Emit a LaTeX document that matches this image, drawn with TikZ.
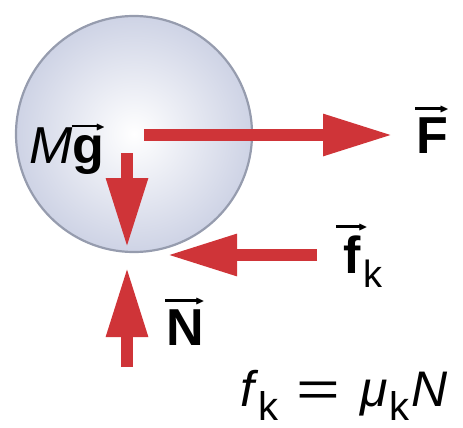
\RequirePackage{fix-cm}
\documentclass[tikz,border=0pt]{standalone}
\usepackage{amssymb}
\usepackage{fontspec}
\setmainfont{Liberation Sans}
\usetikzlibrary{arrows.meta}
\definecolor{forcered}{RGB}{207,52,56}
\definecolor{ballrim}{RGB}{150,156,174}
\definecolor{ballfill}{RGB}{206,211,229}
% bold letter with a thin vector arrow over it (optional arrow length)
\newcommand{\vecl}[2][0pt]{\setbox0\hbox{\bfseries #2}%
  \dimen0=\ifdim#1>\wd0 #1\else\wd0\fi
  \leavevmode\vbox{\offinterlineskip
    \hbox to \wd0{\hss\rule[3.2pt]{\dimexpr\dimen0-5pt}{2.4pt}\kern-2.5pt%
      {\fontsize{12}{12}\selectfont$\blacktriangleright$}\hss}%
    \kern4pt\box0}}
\newcommand{\lowsub}[2]{\raisebox{-14pt}{\fontsize{#1}{#1}\selectfont #2}}

\begin{document}
\begin{tikzpicture}[x=1pt,y=-1pt,
  every node/.style={inner sep=0pt,font=\fontsize{52}{60}\selectfont},
  ball/.style={circle,draw=ballrim,line width=2.2pt,minimum size=236pt,
    inner color=white,outer color=ballfill},
  force/.style={draw=forcered,line width=12pt,-{Triangle[width=39pt,length=70pt]}},
  eqn/.style={font=\fontsize{50}{56}\selectfont}
]
  \useasboundingbox (0,0) rectangle (463,428);
  \node[ball] (ball) at (134,134) {};

  % force arrows
  \coordinate (Ftail) at (144,135);
  \coordinate (Ftip) at (393,135);
  \coordinate (gtail) at (127,153);
  \coordinate (gtip) at (127,248);
  \coordinate (ftail) at (317,255);
  \coordinate (ftip) at (167,255);
  \coordinate (Ntail) at (127,367);
  \coordinate (Ntip) at (127,267);
  \draw[force] (Ftail) -- (Ftip);
  \draw[force] (gtail) -- (gtip);
  \draw[force] (ftail) -- (ftip);
  \draw[force] (Ntail) -- (Ntip);

  % labels
  \node[anchor=base west] (Flab) at (416,153) {\vecl{F}};
  \node[anchor=base west] (glab) at (29,163) {\textit{M}\vecl[30pt]{g}};
  \node[anchor=base west] (flab) at (343,273) {\vecl[30pt]{f}\kern3pt\lowsub{38}{k}};
  \node[anchor=base west] (Nlab) at (166,345) {\vecl{N}};
  \node[eqn,anchor=base west] (law) at (240,406)
    {\textit{f}\lowsub{40}{k}\hspace{18pt}\scalebox{1.5}[1]{=}\hspace{20pt}%
     \textit{μ}\kern2pt\lowsub{40}{k}\kern2pt\textit{N}};
\end{tikzpicture}
\end{document}
